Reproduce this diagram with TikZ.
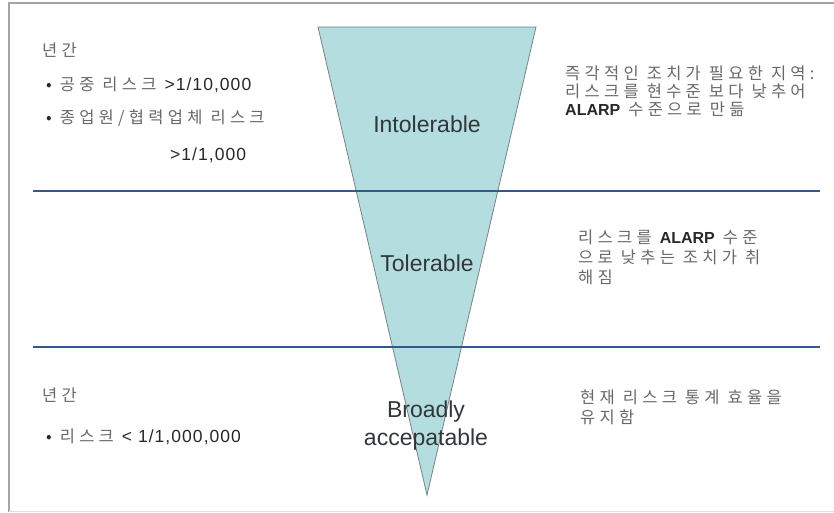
\documentclass[tikz,border=0pt]{standalone}
\usepackage{fontspec}
\setmainfont{Liberation Sans}
\newfontfamily\kr[LetterSpace=26]{Noto Sans CJK KR}
\newfontfamily\lat[LetterSpace=6]{Liberation Sans}
\definecolor{triFill}{RGB}{180,221,224}
\definecolor{triEdge}{RGB}{120,130,135}
\definecolor{zoneLine}{RGB}{52,88,135}
\definecolor{frameGray}{RGB}{165,165,165}
\definecolor{noteGray}{RGB}{105,105,105}
\definecolor{noteDark}{RGB}{40,40,40}
\definecolor{labelDark}{RGB}{50,55,58}
\tikzset{
  note/.style={anchor=west, inner sep=0pt, text=noteGray, font=\kr\fontsize{16.5}{18}\selectfont},
  zone/.style={inner sep=0pt, text=labelDark, font=\fontsize{23}{28}\selectfont},
  divider/.style={draw=zoneLine, line width=2.6pt},
  wedge/.style={fill=triFill, draw=triEdge, line width=0.8pt}
}
% Latin figures and the ALARP acronym inside the Korean notes
\newcommand{\num}[1]{{\lat\fontsize{17.5}{18}\selectfont\textcolor{noteDark}{#1}}}
\newcommand{\alarp}{{\rmfamily\bfseries\fontsize{16}{18}\selectfont\textcolor{noteDark}{ALARP}}}
\newcommand{\bul}{\textcolor{noteDark}{•}}
\begin{document}
\begin{tikzpicture}[x=1pt,y=-1pt]
\useasboundingbox (0,0) rectangle (834,512);
\fill[white] (0,0) rectangle (834,512);
% outer frame
\draw[frameGray, line width=2pt] (9,512) -- (9,3) -- (834,3);
\draw[black!12, line width=1pt] (9,511) -- (834,511);

% risk wedge
\coordinate (tl) at (318,27);
\coordinate (tr) at (536,27);
\coordinate (ap) at (427,495);
\draw[wedge] (tl) -- (tr) -- (ap) -- cycle;

% zone boundaries
\coordinate (l1a) at (33,191);
\coordinate (l1b) at (820,191);
\coordinate (l2a) at (33,347);
\coordinate (l2b) at (820,347);
\draw[divider] (l1a) -- (l1b);
\draw[divider] (l2a) -- (l2b);

% zone names
\node[zone] (intol) at (427,124) {Intolerable};
\node[zone] (tol) at (427,263) {Tolerable};
\node[zone, align=center] (broad) at (426,426) {Broadly\\accepatable};

% upper-left criteria
\node[note] (yr1) at (42,50) {년간};
\node[note] (pub) at (46,85) {\bul{} 공중 리스크 \num{>1/10,000}};
\node[note] (emp) at (46,118) {\bul{} 종업원/협력업체 리스크};
\node[note] (empv) at (170,155) {\num{>1/1,000}};

% lower-left criteria
\node[note] (yr2) at (42,395) {년간};
\node[note] (low) at (46,437) {\bul{} 리스크 \num{< 1/1,000,000}};

% right-hand actions
\node[note] (a1) at (565,73) {즉각적인 조치가 필요한 지역:};
\node[note] (a2) at (565,91) {리스크를 현수준 보다 낮추어};
\node[note] (a3) at (565,109) {\alarp{} 수준으로 만듦};

\node[note] (b1) at (578,237) {리스크를 \alarp{} 수준};
\node[note] (b2) at (578,257) {으로 낮추는 조치가 취};
\node[note] (b3) at (578,277) {해짐};

\node[note] (c1) at (580,397) {현재 리스크 통계 효율을};
\node[note] (c2) at (580,417) {유지함};
\end{tikzpicture}
\end{document}
